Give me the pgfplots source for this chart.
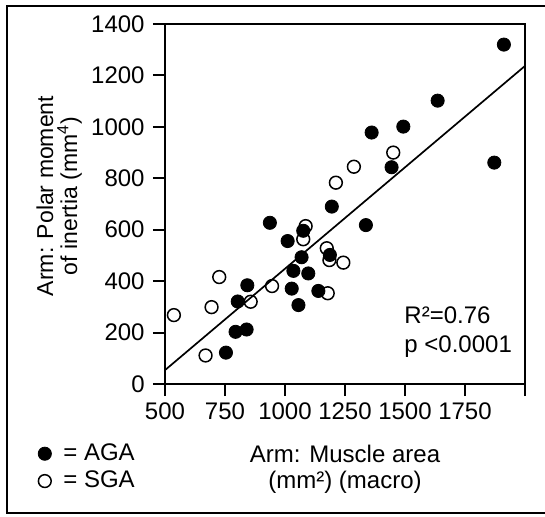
\documentclass[border=0pt]{standalone}
\usepackage{pgfplots}
\pgfplotsset{compat=1.18}
\usepackage{fontspec}
\setmainfont{Liberation Sans}
\begin{document}
\fontsize{12}{14}\selectfont
\begin{tikzpicture}
\begin{axis}[
  at={(82.5pt,-192pt)}, anchor=south west,
  scale only axis, width=180pt, height=180pt,
  xmin=500, xmax=2000, ymin=0, ymax=1400,
  xtick={500,750,...,2000},
  xticklabels={500,750,1000,1250,1500,1750,{}},
  ytick={0,200,...,1400},
  yticklabels={0,200,400,600,800,1000,1200,1400},
  tick align=outside, xtick pos=left, ytick pos=left,
  major tick length=6pt,
  axis line style={line width=1pt},
  every tick/.style={black, line width=1pt},
  /pgf/number format/assume math mode=true,
  /pgf/number format/set thousands separator={},
  scaled ticks=false,
  tick label style={font=\fontsize{12}{14}\selectfont},
  xticklabel style={yshift=1pt},
  legend style={draw=none, fill=none, at={(axis description cs:-0.370,-0.142)},
    anchor=north west, font=\fontsize{12}{14}\selectfont, row sep=-0.5pt,
    /tikz/every odd column/.append style={column sep=4pt}},
  legend cell align=left,
  clip=false,
]
\addplot[only marks, mark=*, mark size=3.3pt, black] coordinates {
(937,627) (1011,556) (1076,596) (1195,690) (1337,618) (1069,493)
(1035,440) (1097,430) (1028,371) (1056,307) (1139,362) (1187,502)
(843,384) (803,321) (794,203) (840,212) (754,122) (1912,1320)
(1636,1102) (1493,1001) (1361,978) (1444,843) (1872,861)
};
\addlegendentry{= AGA}
\addplot[only marks, mark=o, mark size=3.2pt, black, mark options={line width=0.75pt}] coordinates {
(1451,900) (1287,845) (1212,783) (1086,614) (1076,563) (1174,528)
(1185,482) (1243,472) (1178,353) (946,381) (857,320) (726,416)
(694,299) (669,111) (537,268)
};
\addlegendentry{= SGA}
\addplot[black, line width=0.85pt, forget plot] coordinates {(500,54) (2000,1237)};
\node[anchor=base west, inner sep=0pt] at (axis cs:1496,237) {R²=0.76};
\node[anchor=base west, inner sep=0pt] at (axis cs:1496,124) {p <0.0001};
\end{axis}
\node[anchor=base, inner sep=0pt] at (172.5pt,-231pt) {Arm: Muscle area};
\node[anchor=base, inner sep=0pt] at (172.5pt,-244pt) {(mm²) (macro)};
\node[anchor=base, inner sep=0pt, rotate=90, font=\fontsize{11.5}{13}\selectfont] at (26.5pt,-98pt) {Arm: Polar moment};
\node[anchor=base, inner sep=0pt, rotate=90, font=\fontsize{11.5}{13}\selectfont] at (38.5pt,-98pt) {of inertia (mm\textsuperscript{4})};
\draw[line width=1pt] (285pt,-3pt) -- (3.5pt,-3pt) -- (3.5pt,-256.5pt) -- (285pt,-256.5pt);
\pgfresetboundingbox
\useasboundingbox (0pt,0pt) rectangle (272.5pt,-258pt);
\end{tikzpicture}
\end{document}
